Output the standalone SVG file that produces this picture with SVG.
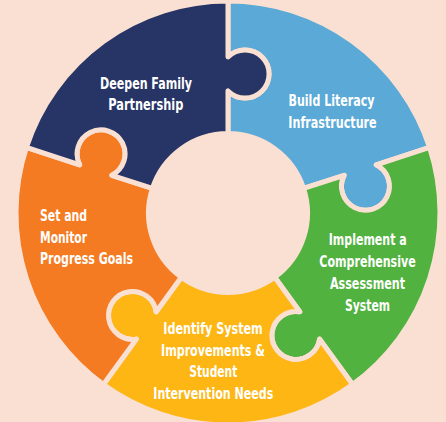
<svg xmlns="http://www.w3.org/2000/svg" width="446" height="422" viewBox="0 0 446 422">
  <defs>
    <style>
      .piece { stroke: #fae0d2; stroke-width: 5; stroke-linejoin: round; }
      .lbl { font-family: "DejaVu Sans Condensed", "Liberation Sans", sans-serif; font-weight: bold; font-size: 16px; fill: #ffffff; text-anchor: middle; }
      .left { text-anchor: start; }
    </style>
    <path id="shape" d="M0,-79.5 L0,-122.1 A24,24 0 1 0 0,-155.9 L0,-212 A212,212 0 0 1 201.624,-65.512 L148.268,-48.176 A24,24 0 1 1 116.126,-37.732 L75.609,-24.567 A79.5,79.5 0 0 0 0,-79.5 Z"/>
  </defs>
  <rect width="446" height="422" fill="#fae0d2"/>

  <g id="build-literacy">
    <use href="#shape" class="piece" fill="#5aa9d6" transform="translate(228,213) rotate(0)"/>
    <text class="lbl" x="331.5" y="106" textLength="86" lengthAdjust="spacingAndGlyphs">Build Literacy</text>
    <text class="lbl" x="332.5" y="127.5" textLength="88.4" lengthAdjust="spacingAndGlyphs">Infrastructure</text>
  </g>
  <g id="assessment">
    <use href="#shape" class="piece" fill="#52b23f" transform="translate(228,213) rotate(72)"/>
    <text class="lbl" x="367.7" y="245" textLength="78" lengthAdjust="spacingAndGlyphs">Implement a</text>
    <text class="lbl" x="367.5" y="267" textLength="96.4" lengthAdjust="spacingAndGlyphs">Comprehensive</text>
    <text class="lbl" x="367.5" y="289" textLength="75" lengthAdjust="spacingAndGlyphs">Assessment</text>
    <text class="lbl" x="367.5" y="310.5" textLength="45" lengthAdjust="spacingAndGlyphs">System</text>
  </g>
  <g id="identify">
    <use href="#shape" class="piece" fill="#fdb614" transform="translate(228,213) rotate(144)"/>
    <text class="lbl" x="213" y="334" textLength="99.4" lengthAdjust="spacingAndGlyphs">Identify System</text>
    <text class="lbl" x="213" y="355.7" textLength="104" lengthAdjust="spacingAndGlyphs">Improvements &amp;</text>
    <text class="lbl" x="213.3" y="377.3" textLength="48" lengthAdjust="spacingAndGlyphs">Student</text>
    <text class="lbl" x="213.3" y="399.3" textLength="120" lengthAdjust="spacingAndGlyphs">Intervention Needs</text>
  </g>
  <g id="progress-goals">
    <use href="#shape" class="piece" fill="#f47b22" transform="translate(228,213) rotate(216)"/>
    <text class="lbl left" x="40" y="221" textLength="47" lengthAdjust="spacingAndGlyphs">Set and</text>
    <text class="lbl left" x="40" y="242.7" textLength="47" lengthAdjust="spacingAndGlyphs">Monitor</text>
    <text class="lbl left" x="40" y="264.3" textLength="93" lengthAdjust="spacingAndGlyphs">Progress Goals</text>
  </g>
  <g id="family-partnership">
    <use href="#shape" class="piece" fill="#273566" transform="translate(228,213) rotate(288)"/>
    <text class="lbl" x="146" y="88.5" textLength="92" lengthAdjust="spacingAndGlyphs">Deepen Family</text>
    <text class="lbl" x="145.8" y="110.3" textLength="75" lengthAdjust="spacingAndGlyphs">Partnership</text>
  </g>
  <g id="connectors"/>
</svg>
